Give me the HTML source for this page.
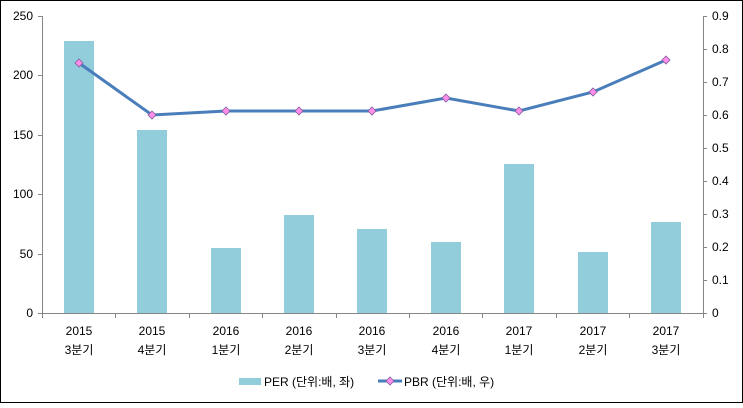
<!DOCTYPE html>
<html><head><meta charset="utf-8"><style>body{margin:0;background:#fff}</style></head><body>
<svg width="743" height="403" xmlns="http://www.w3.org/2000/svg" font-family="Liberation Sans, Noto Sans CJK KR, sans-serif" font-size="12" fill="#000">
<rect x="0.5" y="0.5" width="742" height="402" fill="#fff" stroke="#000"/>
<g fill="#92CDDC">
<rect x="64" y="41" width="30" height="272"/>
<rect x="137" y="130" width="30" height="183"/>
<rect x="211" y="248" width="30" height="65"/>
<rect x="284" y="215" width="30" height="98"/>
<rect x="357" y="229" width="30" height="84"/>
<rect x="431" y="242" width="30" height="71"/>
<rect x="504" y="164" width="30" height="149"/>
<rect x="578" y="252" width="30" height="61"/>
<rect x="651" y="222" width="30" height="91"/>
</g>
<g stroke="#868686" fill="none">
<line x1="42.5" y1="16" x2="42.5" y2="313"/>
<line x1="703.5" y1="16" x2="703.5" y2="313"/>
<line x1="42" y1="313.5" x2="703" y2="313.5"/>
<path d="M38 16.5H42M38 75.5H42M38 135.5H42M38 194.5H42M38 254.5H42M38 313.5H42"/>
<path d="M703 16.5H707M703 49.5H707M703 82.5H707M703 115.5H707M703 148.5H707M703 181.5H707M703 214.5H707M703 247.5H707M703 280.5H707M703 313.5H707"/>
<path d="M42.5 313V318M115.5 313V318M189.5 313V318M262.5 313V318M336.5 313V318M409.5 313V318M482.5 313V318M556.5 313V318M629.5 313V318M703.5 313V318"/>
</g>
<g text-anchor="end">
<text x="33" y="20">250</text><text x="33" y="79">200</text><text x="33" y="139">150</text><text x="33" y="198">100</text><text x="33" y="258">50</text><text x="33" y="317">0</text>
</g>
<g>
<text x="712" y="20">0.9</text><text x="712" y="53">0.8</text><text x="712" y="86">0.7</text><text x="712" y="119">0.6</text><text x="712" y="152">0.5</text><text x="712" y="185">0.4</text><text x="712" y="218">0.3</text><text x="712" y="251">0.2</text><text x="712" y="284">0.1</text><text x="712" y="317">0</text>
</g>
<g text-anchor="middle">
<text x="79" y="335">2015</text><text x="79" y="354">3분기</text>
<text x="152" y="335">2015</text><text x="152" y="354">4분기</text>
<text x="226" y="335">2016</text><text x="226" y="354">1분기</text>
<text x="299" y="335">2016</text><text x="299" y="354">2분기</text>
<text x="372" y="335">2016</text><text x="372" y="354">3분기</text>
<text x="446" y="335">2016</text><text x="446" y="354">4분기</text>
<text x="519" y="335">2017</text><text x="519" y="354">1분기</text>
<text x="593" y="335">2017</text><text x="593" y="354">2분기</text>
<text x="666" y="335">2017</text><text x="666" y="354">3분기</text>
</g>
<polyline points="79,63 152,115 226,111 299,111 372,111 446,98 519,111 593,92 666,60" fill="none" stroke="#4A7EBB" stroke-width="3"/>
<g fill="#FF8FE8" stroke="#7F5A9F" stroke-width="0.8">
<path d="M79 59l4 4-4 4-4-4z"/><path d="M152 111l4 4-4 4-4-4z"/><path d="M226 107l4 4-4 4-4-4z"/><path d="M299 107l4 4-4 4-4-4z"/><path d="M372 107l4 4-4 4-4-4z"/><path d="M446 94l4 4-4 4-4-4z"/><path d="M519 107l4 4-4 4-4-4z"/><path d="M593 88l4 4-4 4-4-4z"/><path d="M666 56l4 4-4 4-4-4z"/>
</g>
<rect x="239" y="378" width="22" height="7" fill="#92CDDC"/>
<text x="264" y="386">PER (단위:배, 좌)</text>
<line x1="378" y1="381" x2="402" y2="381" stroke="#4A7EBB" stroke-width="3"/>
<path d="M390 377l4 4-4 4-4-4z" fill="#FF8FE8" stroke="#7F5A9F" stroke-width="0.8"/>
<text x="404" y="386">PBR (단위:배, 우)</text>
</svg>
</body></html>
